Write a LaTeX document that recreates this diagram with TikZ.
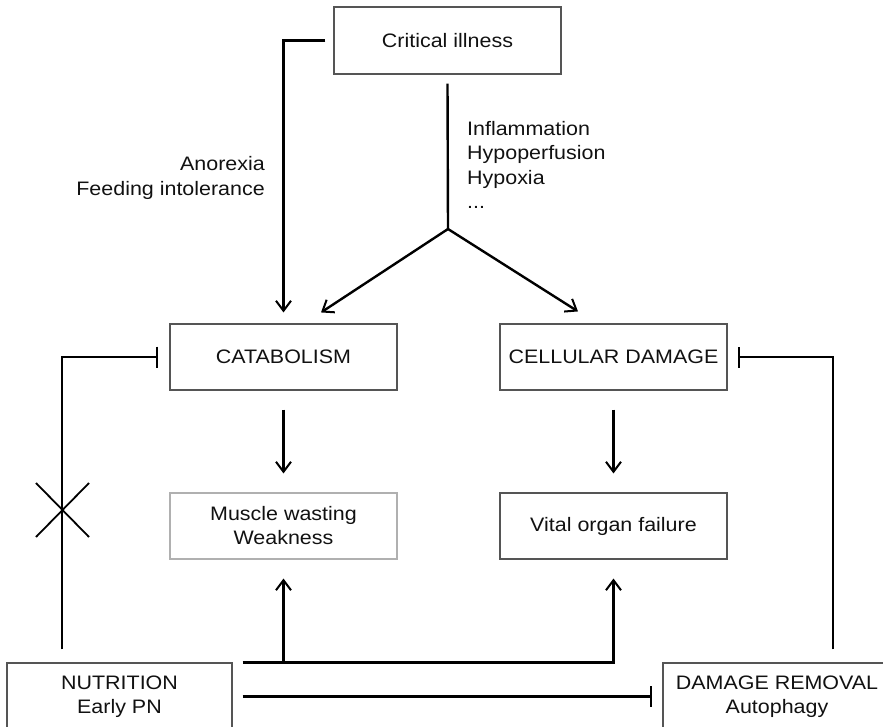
\documentclass[tikz,border=0pt]{standalone}
\usepackage{fontspec}
\setmainfont{Liberation Sans}[FakeStretch=1.1]
\usetikzlibrary{arrows.meta}
\definecolor{boxc}{HTML}{555555}
\definecolor{boxl}{HTML}{B0B0B0}
\definecolor{txt}{HTML}{111111}
\begin{document}
\begin{tikzpicture}[x=1pt,y=-1pt,
  box/.style={draw=boxc, line width=1.1pt, minimum width=227pt, minimum height=66pt,
    inner sep=0pt, align=center, text=txt, font=\fontsize{19.5}{24}\selectfont},
  lbl/.style={inner sep=0pt, text=txt, font=\fontsize{19.5}{24.5}\selectfont},
  ln/.style={line width=2.4pt, black},
  arr/.style={ln, -{Straight Barb[length=10pt,width=15pt,line width=2pt]}},
  inh/.style={ln, -{Bar[width=21pt,line width=2.4pt]}}
]
\useasboundingbox (0,0) rectangle (883,727);

\node[box, minimum height=67pt] (crit) at (447.5,40.5) {Critical illness};
\node[box] (cat) at (283.5,357) {CATABOLISM};
\node[box] (cell) at (613.5,357) {CELLULAR DAMAGE};
\node[box, draw=boxl] (mus) at (283.5,526) {Muscle wasting\\Weakness};
\node[box] (vit) at (613.5,526) {Vital organ failure};
\node[box, minimum width=225pt, minimum height=67pt] (nut) at (119.5,696.5) {NUTRITION\\Early PN};
\node[box, minimum width=228pt, minimum height=67pt] (dr) at (777,696.5) {DAMAGE REMOVAL\\Autophagy};

\node[lbl, anchor=east, align=right] (anx) at (265,178) {Anorexia\\Feeding intolerance};
\node[lbl, anchor=west, align=left] (infl) at (467,165) {Inflammation\\Hypoperfusion\\Hypoxia\\...};

% top connectors
\draw[arr] ([xshift=-8pt]crit.west) -| ([yshift=11pt]cat.north);
\coordinate (fork) at (448,229);
\draw[ln] ([yshift=-9pt]crit.south) -- (fork);
\draw[arr] (fork) -- ([xshift=37.5pt,yshift=11pt]cat.north);
\draw[arr] (fork) -- ([xshift=-35.5pt,yshift=12pt]cell.north);

% middle arrows
\draw[arr] ([yshift=-19pt]cat.south) -- ([yshift=19pt]mus.north);
\draw[arr] ([yshift=-19pt]cell.south) -- ([yshift=19pt]vit.north);

% inhibitions
\draw[inh] ([xshift=-57.5pt,yshift=13pt]nut.north) |- ([xshift=-11pt]cat.west);
\draw[inh] ([xshift=56pt,yshift=13pt]dr.north) |- ([xshift=10pt]cell.east);
\draw[inh] ([xshift=10pt]nut.east) -- ([xshift=-10pt]dr.west);

% nutrition arrows up
\draw[arr] ([xshift=10pt]nut.north east) -| ([yshift=-19pt]vit.south);
\draw[arr] (mus.south |- nut.north) -- ([yshift=-19pt]mus.south);

% cross mark
\draw[line width=1.8pt] (36,483) -- (89,537) (36,537) -- (89,483);
\end{tikzpicture}
\end{document}
